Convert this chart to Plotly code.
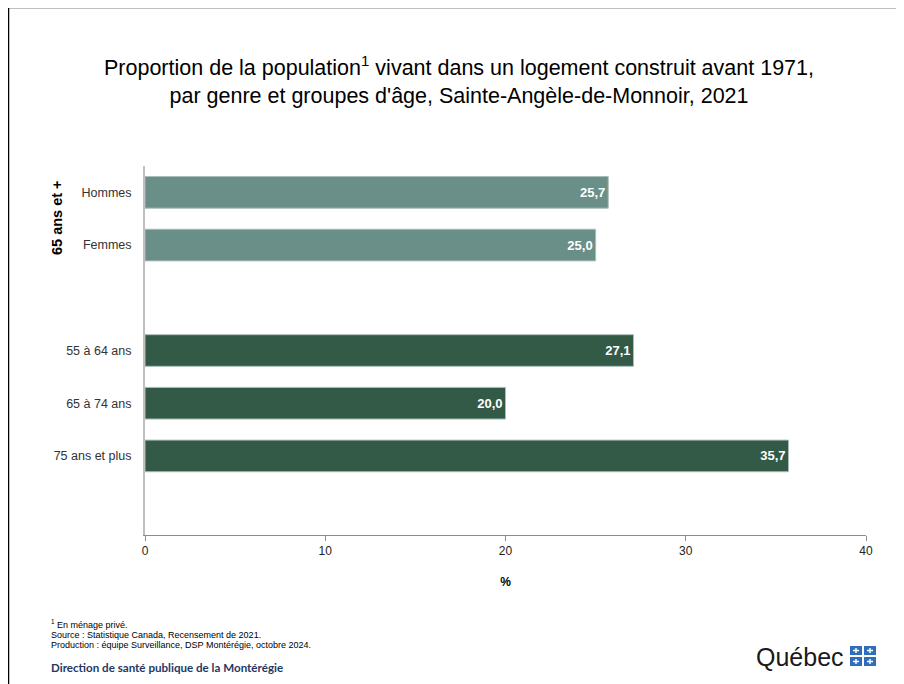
import plotly.graph_objects as go

# ---- data ----
categories = ["Hommes", "Femmes", "55 à 64 ans", "65 à 74 ans", "75 ans et plus"]
values = [25.7, 25.0, 27.1, 20.0, 35.7]
groups = ["genre", "genre", "age", "age", "age"]
category_order = ["Hommes", "Femmes", " ", "55 à 64 ans", "65 à 74 ans", "75 ans et plus", "  "]
x_ticks = [0, 10, 20, 30, 40]

group_colors = {"genre": "#6A8F88", "age": "#325A47"}

# page offset of the figure inside the browser window (body margin)
OFF = 8
W, H = 904, 684
# target page coordinates of the plot area
PL, PR, PT, PB = 145, 866, 166, 535
L = PL - OFF
R = W - (PR - OFF)
T = PT - OFF
B = H - (PB - OFF)
PW, PH = W - L - R, H - T - B

def px(x):
    return (x - OFF - L) / PW

def py(y):
    return (H - B - (y - OFF)) / PH

labels = [f"{v:.1f}".replace(".", ",") for v in values]

fig = go.Figure(go.Bar(
    x=values, y=categories, orientation="h",
    marker=dict(color=[group_colors[g] for g in groups],
                line=dict(color="#A9BDB8", width=1)),
    width=0.6,
    text=labels, textposition="inside", insidetextanchor="end",
    textfont=dict(family="Liberation Sans, Arial", size=13, color="white", weight="bold"),
    cliponaxis=False,
))

sans = "Liberation Sans, Arial"

fig.update_layout(
    width=W, height=H,
    margin=dict(l=L, r=R, t=T, b=B),
    paper_bgcolor="white", plot_bgcolor="white",
    separators=", ",
    showlegend=False,
    xaxis=dict(range=[0, 40], tickvals=x_ticks, showgrid=False, zeroline=False,
               showline=True, linecolor="#8C8C8C", linewidth=1,
               ticks="outside", ticklen=5, tickcolor="#8C8C8C",
               tickfont=dict(family=sans, size=12, color="#222"),
               title=dict(text="<b>%</b>", standoff=20,
                          font=dict(family=sans, size=12, color="#000"))),
    yaxis=dict(type="category", categoryorder="array", categoryarray=category_order,
               range=[len(category_order) - 0.5, -0.5], autorange=False,
               showgrid=False, zeroline=False,
               showline=True, linecolor="#BFBFBF", linewidth=2, ticks="",
               ticklabelstandoff=9,
               tickfont=dict(family=sans, size=12.5, color="#333")),
)

# title
fig.add_annotation(
    xref="paper", yref="paper", x=px(459), y=py(80), xanchor="center", yanchor="middle",
    text="Proportion de la population<sup>1</sup> vivant dans un logement construit avant 1971,<br>"
         "par genre et groupes d'âge, Sainte-Angèle-de-Monnoir, 2021",
    showarrow=False, align="center",
    font=dict(family=sans, size=21.5, color="#000"),
)

# group label
fig.add_annotation(
    xref="paper", yref="paper", x=px(57), y=py(218), xanchor="center", yanchor="middle",
    text="<b>65 ans et +</b>", textangle=-90, showarrow=False,
    font=dict(family=sans, size=14.5, color="#000"),
)

# footnotes
foot = ["<sup>1</sup> En ménage privé.",
        "Source : Statistique Canada, Recensement de 2021.",
        "Production : équipe Surveillance, DSP Montérégie, octobre 2024."]
for i, t in enumerate(foot):
    fig.add_annotation(
        xref="paper", yref="paper", x=px(49), y=py(624 + i * 10.5), xanchor="left", yanchor="middle",
        text=t, showarrow=False,
        font=dict(family=sans, size=9, color="#000"),
    )

fig.add_annotation(
    xref="paper", yref="paper", x=px(49), y=py(667), xanchor="left", yanchor="middle",
    text="<b>Direction de santé publique de la Montérégie</b>", showarrow=False,
    font=dict(family="Lato, Open Sans", size=11.6, color="#1F3864"),
)

# Québec logo
fig.add_annotation(
    xref="paper", yref="paper", x=px(846), y=py(657), xanchor="right", yanchor="middle",
    text="Québec", showarrow=False,
    font=dict(family=sans, size=25, color="#1a1a1a"),
)
for cx, cy in [(850, 646), (864, 646), (850, 657), (864, 657)]:
    fig.add_shape(type="rect", xref="paper", yref="paper",
                  x0=px(cx), x1=px(cx + 12), y0=py(cy), y1=py(cy + 9),
                  fillcolor="#2F6EBA", line=dict(width=0), layer="above")
    fig.add_shape(type="line", xref="paper", yref="paper",
                  x0=px(cx + 6), x1=px(cx + 6), y0=py(cy + 2), y1=py(cy + 7),
                  line=dict(color="white", width=1.5), layer="above")
    fig.add_shape(type="line", xref="paper", yref="paper",
                  x0=px(cx + 3), x1=px(cx + 9), y0=py(cy + 4.5), y1=py(cy + 4.5),
                  line=dict(color="white", width=1.5), layer="above")

# frame (left and top edges)
fig.add_shape(type="line", xref="paper", yref="paper",
              x0=px(8), x1=px(8), y0=py(6), y1=py(700), line=dict(color="#000", width=2.5))
fig.add_shape(type="line", xref="paper", yref="paper",
              x0=px(7), x1=px(920), y0=py(7), y1=py(7), line=dict(color="#000", width=2.5))

fig.write_html("out.html")
